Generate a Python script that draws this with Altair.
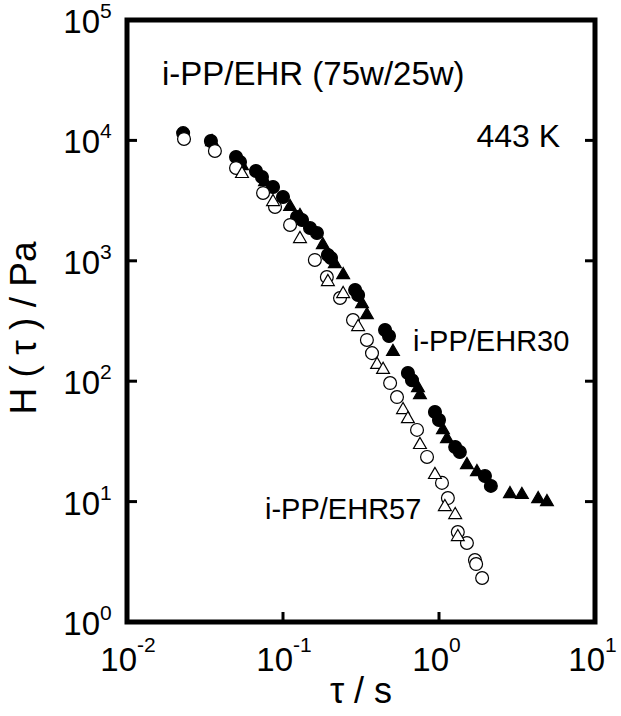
import altair as alt
import pandas as pd

# ---- data (tau in s, H in Pa) ----
# i-PP/EHR30, filled circles
ehr30_circ_tau = [0.0229, 0.0345, 0.050, 0.053, 0.0671, 0.0733, 0.0863, 0.100, 0.123, 0.1324,
                  0.149, 0.165, 0.194, 0.203, 0.290, 0.303, 0.451, 0.478, 0.632, 0.671,
                  0.942, 1.00, 1.27, 1.36, 1.97, 2.15]
ehr30_circ_H = [11500, 9890, 7280, 6620, 5570, 4970, 4100, 3390, 2310, 2180,
                1870, 1700, 1117, 1055, 572, 520, 266, 237, 117, 102,
                55.5, 47.6, 28.4, 25.8, 16.3, 13.5]
# i-PP/EHR30, filled triangles
ehr30_tri_tau = [0.0351, 0.0546, 0.0767, 0.111, 0.1285, 0.180, 0.215, 0.243, 0.321, 0.345,
                 0.507, 0.733, 0.755, 1.06, 1.125, 1.51, 1.75, 2.85, 3.40, 4.32, 4.92]
ehr30_tri_H = [10080, 6370, 4690, 2910, 2450, 1406, 977, 792, 455, 368,
               182, 91.2, 79.8, 40.8, 34.4, 20.9, 18.3, 12.0, 11.8, 10.9, 10.3]
# i-PP/EHR57, open circles
ehr57_circ_tau = [0.0232, 0.0366, 0.050, 0.0745, 0.0889, 0.111, 0.160, 0.191, 0.232, 0.281,
                  0.345, 0.372, 0.486, 0.538, 0.723, 0.838, 1.045, 1.14, 1.32, 1.51,
                  1.70, 1.73, 1.89]
ehr57_circ_H = [10280, 8170, 5900, 3660, 2800, 1984, 1016, 733, 491, 322,
                220, 171, 96.6, 73.9, 39.4, 23.5, 14.3, 10.7, 5.59, 4.53,
                3.27, 3.03, 2.32]
# i-PP/EHR57, open triangles
ehr57_tri_tau = [0.0546, 0.0863, 0.1285, 0.194, 0.243, 0.303, 0.401, 0.438, 0.588, 0.632,
                 0.755, 0.942, 1.09, 1.27, 1.32]
ehr57_tri_H = [5470, 3200, 1577, 693, 551, 293, 142, 129, 59.9, 50.4,
               30.7, 17.3, 9.37, 8.04, 5.28]

y_tick_vals = [10, 100, 1000, 10000]
x_tick_vals = [0.1, 1]
y_label_vals = [1, 10, 100, 1000, 10000, 100000]
y_label_exp = ["0", "1", "2", "3", "4", "5"]
x_label_vals = [0.01, 0.1, 1, 10]
x_label_exp = ["-2", "-1", "0", "1"]

FONT = "Liberation Sans"
W, H = 468, 602

xs = alt.Scale(type="log", domain=[0.01, 10], nice=False)
ys = alt.Scale(type="log", domain=[1, 100000], nice=False)


def series(tau, h, shape, fill):
    df = pd.DataFrame({"tau": tau, "H": h})
    return alt.Chart(df).mark_point(
        shape=shape, size=165, filled=True, fill=fill, stroke="black",
        strokeWidth=1.2, opacity=1
    ).encode(
        x=alt.X("tau:Q", scale=xs, axis=None),
        y=alt.Y("H:Q", scale=ys, axis=None),
    )


pts = [
    series(ehr30_circ_tau, ehr30_circ_H, "circle", "black"),
    series(ehr30_tri_tau, ehr30_tri_H, "triangle-up", "black"),
    series(ehr57_circ_tau, ehr57_circ_H, "circle", "white"),
    series(ehr57_tri_tau, ehr57_tri_H, "triangle-up", "white"),
]

ydf = pd.DataFrame({"v": y_tick_vals})
xdf = pd.DataFrame({"v": x_tick_vals})
ticks = [
    alt.Chart(ydf).mark_rule(color="black", strokeWidth=3).encode(
        y=alt.Y("v:Q", scale=ys, axis=None), x=alt.value(0), x2=alt.value(10)),
    alt.Chart(ydf).mark_rule(color="black", strokeWidth=3).encode(
        y=alt.Y("v:Q", scale=ys, axis=None), x=alt.value(W), x2=alt.value(W - 10)),
    alt.Chart(xdf).mark_rule(color="black", strokeWidth=3).encode(
        x=alt.X("v:Q", scale=xs, axis=None), y=alt.value(H), y2=alt.value(H - 10)),
]

yl = pd.DataFrame({"v": y_label_vals, "e": y_label_exp, "b": ["10"] * len(y_label_vals)})
xl = pd.DataFrame({"v": x_label_vals, "e": x_label_exp, "b": ["10"] * len(x_label_vals)})
labels = [
    alt.Chart(yl).mark_text(align="right", baseline="middle", fontSize=33, font=FONT, dy=3).encode(
        y=alt.Y("v:Q", scale=ys, axis=None), x=alt.value(-27), text="b:N"),
    alt.Chart(yl).mark_text(align="left", baseline="middle", fontSize=21, font=FONT, dy=-8).encode(
        y=alt.Y("v:Q", scale=ys, axis=None), x=alt.value(-27), text="e:N"),
    alt.Chart(xl).mark_text(align="right", baseline="alphabetic", fontSize=33, font=FONT, dx=10).encode(
        x=alt.X("v:Q", scale=xs, axis=None), y=alt.value(H + 49), text="b:N"),
    alt.Chart(xl).mark_text(align="left", baseline="alphabetic", fontSize=21, font=FONT, dx=10).encode(
        x=alt.X("v:Q", scale=xs, axis=None), y=alt.value(H + 30), text="e:N"),
]


def txt(s, x, y, size, align="left", angle=0, baseline="middle"):
    kw = dict(align=align, baseline=baseline, fontSize=size, font=FONT, text=s, color="black")
    if angle:
        kw["angle"] = angle
    return alt.Chart(pd.DataFrame({"a": [0]})).mark_text(**kw).encode(
        x=alt.value(x), y=alt.value(y))


texts = [
    txt("τ / s", W / 2, H + 81, 36, align="center", baseline="alphabetic"),
    txt("H ( τ ) / Pa", -102, 308, 37, align="center", angle=270),
    txt("i-PP/EHR (75w/25w)", 35, 55, 33),
    txt("443 K", 433, 117, 32, align="right"),
    txt("i-PP/EHR30", 286, 322, 29),
    txt("i-PP/EHR57", 138, 490, 29),
]

chart = alt.layer(*pts, *ticks, *labels, *texts).properties(
    width=W, height=H,
    autosize=alt.AutoSizeParams(type="none"),
    padding={"left": 127, "top": 20, "right": 26, "bottom": 94},
).configure_view(stroke="black", strokeWidth=5)

chart.save("out.html", embed_options={"renderer": "svg", "actions": False})
